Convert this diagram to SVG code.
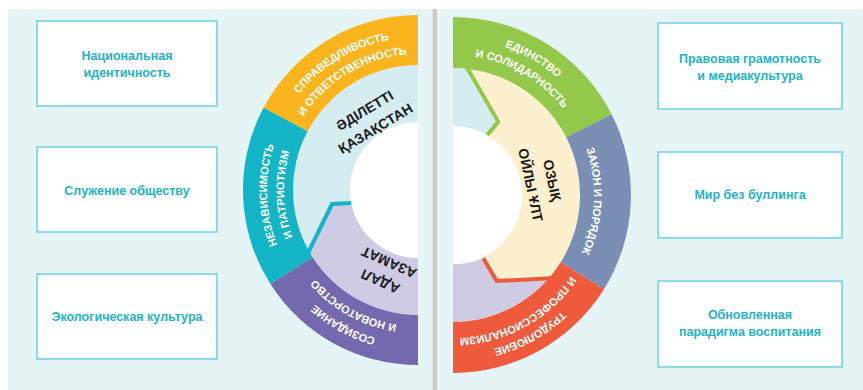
<svg xmlns="http://www.w3.org/2000/svg" width="863" height="390" viewBox="0 0 863 390">
<style>
.bg{fill:#e5f4f5}
.box rect{fill:#fdfefe;stroke:#6dd2de;stroke-width:1.5}
.box text{font-family:"Liberation Sans",Arial,sans-serif;font-weight:bold;font-size:12.5px;fill:#25b3c7;text-anchor:middle}
.ring{font-family:"Liberation Sans",Arial,sans-serif;font-weight:bold;font-size:11px;fill:#ffffff}
.core{font-family:"Liberation Sans",Arial,sans-serif;font-weight:bold;font-size:14px;fill:#1b1b1b;text-anchor:middle}
.chev{fill:none;stroke-width:4;stroke-linejoin:miter}
</style>
<defs>
<path id="pOr1" d="M265.02,192.67 A153,153 0 0 1 492.18,56.18"/>
<path id="pOr2" d="M282.02,192.37 A136,136 0 0 1 483.93,71.05"/>
<path id="pTe1" d="M347.11,323.33 A151,151 0 0 1 337.98,61.94"/>
<path id="pTe2" d="M355.09,308.32 A134,134 0 0 1 346.99,76.36"/>
<path id="pPu1" d="M497.32,322 A154,154 0 0 1 264.02,192.69"/>
<path id="pPu2" d="M488.05,306.58 A136,136 0 0 1 282.02,192.37"/>
<path id="pGr1" d="M375.69,58.35 A157,157 0 0 1 609.99,196.37"/>
<path id="pGr2" d="M384.06,73.15 A140,140 0 0 1 592.99,196.22"/>
<path id="pBl1" d="M528.76,76.08 A141,141 0 0 1 518.11,320.07"/>
<path id="pRe1" d="M611.98,197.77 A159,159 0 0 1 371.11,331.29"/>
<path id="pRe2" d="M595.98,197.5 A143,143 0 0 1 379.35,317.58"/>
</defs>
<rect width="863" height="390" fill="#ffffff"/>
<rect class="bg" x="8" y="9" width="424.5" height="381"/>
<rect class="bg" x="439" y="9" width="424" height="381"/>
<rect x="432.5" y="9" width="5" height="381" fill="#cbcbcb"/>

<g id="left-wheel">
  <g id="inner-adiletti">
    <path d="M418,65 A125,125 0 0 0 418,315 L418,258 A68,68 0 0 1 418,122 Z" fill="#d5ecf0"/>
    <text class="core" transform="translate(369.75,119) rotate(-31)"><tspan x="0" y="-5">ӘДІЛЕТТІ</tspan><tspan x="0" y="16">ҚАЗАҚСТАН</tspan></text>
  </g>
  <g id="inner-adal">
    <path d="M351.25,203 L332,204 L309,251 A125,125 0 0 0 418,315 L418,258 A68,68 0 0 1 351.25,203 Z" fill="#cfcbe4"/>
    <polyline class="chev" stroke="#12b4c6" points="351.5,203 332,204 307.5,254"/>
    <text class="core" transform="translate(384.5,272.5) rotate(-156)"><tspan x="0" y="-5">АДАЛ</tspan><tspan x="0" y="16">АЗАМАТ</tspan></text>
  </g>
  <path d="M418,122 A68,68 0 0 0 418,258 Z" fill="#ffffff"/>
  <g id="seg-spravedlivost">
    <path d="M418,15 A175,175 0 0 0 263.5,107.8 L307.6,131.3 A125,125 0 0 1 418,65 Z" fill="#fab41e"/>
    <text class="ring"><textPath href="#pOr1" startOffset="50%" text-anchor="middle">СПРАВЕДЛИВОСТЬ</textPath></text>
    <text class="ring"><textPath href="#pOr2" startOffset="50%" text-anchor="middle">И ОТВЕТСТВЕННОСТЬ</textPath></text>
  </g>
  <g id="seg-nezavisimost">
    <path d="M263.5,107.8 A175,175 0 0 0 270.4,284 L312.6,257.2 A125,125 0 0 1 307.6,131.3 Z" fill="#12b4c6"/>
    <text class="ring"><textPath href="#pTe1" startOffset="50%" text-anchor="middle">НЕЗАВИСИМОСТЬ</textPath></text>
    <text class="ring"><textPath href="#pTe2" startOffset="50%" text-anchor="middle">И ПАТРИОТИЗМ</textPath></text>
  </g>
  <g id="seg-sozidanie">
    <path d="M270.4,284 A175,175 0 0 0 418,365 L418,315 A125,125 0 0 1 312.6,257.2 Z" fill="#7468ae"/>
    <text class="ring"><textPath href="#pPu1" startOffset="50%" text-anchor="middle">СОЗИДАНИЕ</textPath></text>
    <text class="ring"><textPath href="#pPu2" startOffset="50%" text-anchor="middle">И НОВАТОРСТВО</textPath></text>
  </g>
</g>

<g id="right-wheel">
  <g id="inner-ozyk">
    <path d="M453,68 A127,127 0 0 1 453,322 L453,264 A69,69 0 0 0 453,126 Z" fill="#fdf0cf"/>
    <text class="core" transform="translate(542,182.5) rotate(78)"><tspan x="0" y="-5.5">ОЗЫҚ</tspan><tspan x="0" y="16.5">ОЙЛЫ ҰЛТ</tspan></text>
  </g>
  <path id="inner-wedge" d="M453,68 A127,127 0 0 1 467,68.8 L498.3,121.7 L487.2,135.1 A69,69 0 0 0 453,126 Z" fill="#d5ecf0"/>
  <path id="inner-lav" d="M483.3,258.3 L496.7,281 L548.2,278.5 A127,127 0 0 1 453,322 L453,264 A69,69 0 0 0 483.3,258.3 Z" fill="#cfcbe4"/>
  <polyline class="chev" stroke="#93c84a" points="465.5,65 498.3,121.7 487.2,135.1"/>
  <polyline class="chev" stroke="#ef5a3d" points="483.3,258.3 496.7,281 551,278.3"/>
  <path d="M453,126 A69,69 0 0 1 453,264 Z" fill="#ffffff"/>
  <g id="seg-edinstvo">
    <path d="M453,17 A178,178 0 0 1 611.6,114.2 L566.2,137.3 A127,127 0 0 0 453,68 Z" fill="#93c84a"/>
    <text class="ring"><textPath href="#pGr1" startOffset="50%" text-anchor="middle">ЕДИНСТВО</textPath></text>
    <text class="ring"><textPath href="#pGr2" startOffset="50%" text-anchor="middle">И СОЛИДАРНОСТЬ</textPath></text>
  </g>
  <g id="seg-zakon">
    <path d="M611.6,114.2 A178,178 0 0 1 603.9,289.3 L560.7,262.3 A127,127 0 0 0 566.2,137.3 Z" fill="#7b8fb5"/>
    <text class="ring"><textPath href="#pBl1" startOffset="50%" text-anchor="middle">ЗАКОН И ПОРЯДОК</textPath></text>
  </g>
  <g id="seg-trudolyubie">
    <path d="M603.9,289.3 A178,178 0 0 1 453,373 L453,322 A127,127 0 0 0 560.7,262.3 Z" fill="#ef5a3d"/>
    <text class="ring"><textPath href="#pRe1" startOffset="50%" text-anchor="middle">ТРУДОЛЮБИЕ</textPath></text>
    <text class="ring"><textPath href="#pRe2" startOffset="50%" text-anchor="middle">И ПРОФЕССИОНАЛИЗМ</textPath></text>
  </g>
</g>

<g id="box-nac" class="box"><rect x="37" y="21" width="180" height="85"/><text x="127" y="60">Национальная</text><text x="127" y="77">идентичность</text></g>
<g id="box-sluzh" class="box"><rect x="37" y="147" width="180" height="85"/><text x="127" y="195">Служение обществу</text></g>
<g id="box-eko" class="box"><rect x="37" y="274" width="180" height="85"/><text x="127" y="321">Экологическая культура</text></g>
<g id="box-prav" class="box"><rect x="658" y="23" width="184" height="86"/><text x="750" y="63">Правовая грамотность</text><text x="750" y="80">и медиакультура</text></g>
<g id="box-mir" class="box"><rect x="658" y="152" width="184" height="86"/><text x="750" y="199">Мир без буллинга</text></g>
<g id="box-obn" class="box"><rect x="658" y="281" width="184" height="86"/><text x="750" y="319">Обновленная</text><text x="750" y="336">парадигма воспитания</text></g>
<g id="connectors"/>
</svg>
